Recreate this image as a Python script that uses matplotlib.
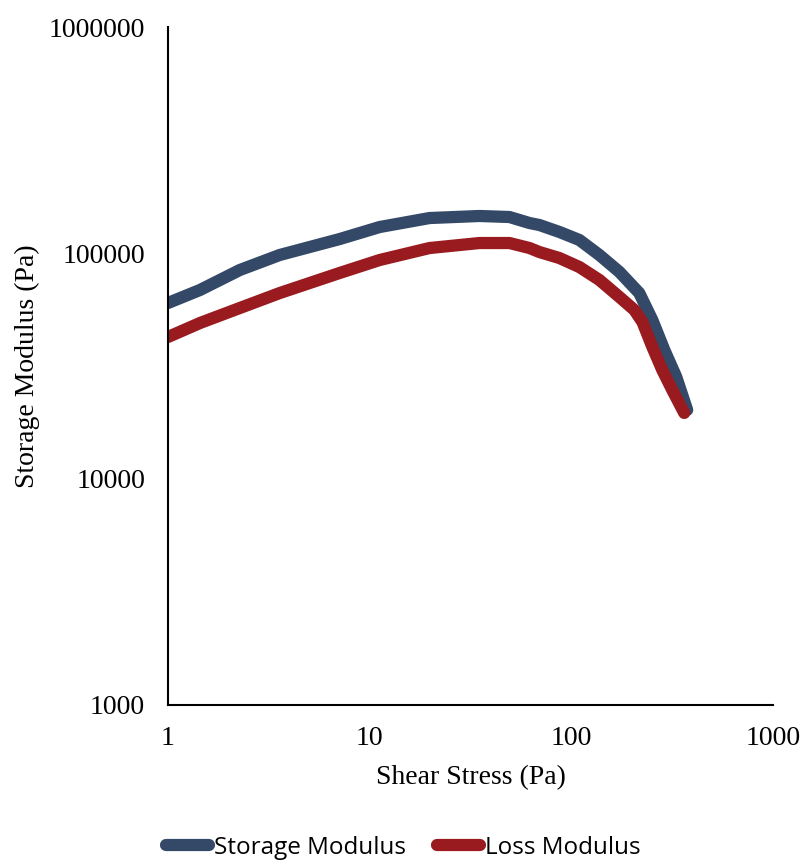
import matplotlib

matplotlib.use("Agg")
import matplotlib.pyplot as plt
from matplotlib.ticker import FixedLocator, FuncFormatter, NullLocator

# Valores (Pa)
shear_storage = [1.0, 1.44, 2.27, 3.58, 7.10, 11.2, 19.8, 35.0, 49.3, 62.0, 69.4, 87.2,
                 109.5, 137.6, 172.9, 217, 252, 289, 331, 375]
storage_mod = [60100, 68600, 84100, 98000, 115300, 130300, 142800, 145800, 144300, 135700,
               133000, 123900, 114200, 98000, 82500, 66500, 50500, 37200, 28300, 20200]

shear_loss = [1.0, 1.44, 2.27, 3.58, 7.10, 11.2, 19.8, 35.0, 49.3, 62.0, 69.4, 87.2,
              109.5, 137.6, 172.9, 205, 225, 252, 282, 316, 362.5]
loss_mod = [42500, 49000, 57100, 66500, 81600, 93100, 105200, 110700, 110700, 105200,
            101000, 95000, 86700, 76000, 63900, 56000, 49500, 38400, 30400, 24800, 19600]

x_ticks = [1, 10, 100, 1000]
y_ticks = [1000, 10000, 100000, 1000000]

_COLOR_STORAGE = "#344968"
_COLOR_LOSS = "#991b1f"

fig = plt.figure(figsize=(8.07, 8.63), dpi=100)
ax = fig.add_axes([0.2082, 0.1831, 0.7498, 0.7856])

ax.plot(shear_storage, storage_mod, color=_COLOR_STORAGE, linewidth=8.8,
        solid_capstyle="round", solid_joinstyle="round", label="Storage Modulus")
ax.plot(shear_loss, loss_mod, color=_COLOR_LOSS, linewidth=8.8,
        solid_capstyle="round", solid_joinstyle="round", label="Loss Modulus")

ax.set_xscale("log")
ax.set_yscale("log")
ax.set_xlim(1, 1000)
ax.set_ylim(1000, 1000000)
ax.xaxis.set_major_locator(FixedLocator(x_ticks))
ax.yaxis.set_major_locator(FixedLocator(y_ticks))
ax.xaxis.set_minor_locator(NullLocator())
ax.yaxis.set_minor_locator(NullLocator())
fmt = FuncFormatter(lambda v, _: f"{int(round(v))}")
ax.xaxis.set_major_formatter(fmt)
ax.yaxis.set_major_formatter(fmt)

serif = "Liberation Serif"
ax.tick_params(axis="both", length=0, labelsize=20)
ax.tick_params(axis="x", pad=15)
ax.tick_params(axis="y", pad=16.5)
for lab in ax.get_xticklabels() + ax.get_yticklabels():
    lab.set_fontfamily(serif)

ax.set_xlabel("Shear Stress (Pa)", fontsize=20, fontfamily=serif, labelpad=10)
ax.set_ylabel("Storage Modulus (Pa)", fontsize=20, fontfamily=serif, labelpad=6)

for spine in ("top", "right"):
    ax.spines[spine].set_visible(False)
for spine in ("left", "bottom"):
    ax.spines[spine].set_linewidth(1.5)
    ax.spines[spine].set_color("#000000")

fig.legend(loc="center", bbox_to_anchor=(0.5, 0.0174), ncol=2, frameon=False,
           prop={"family": "Open Sans", "size": 17.5}, handlelength=1.75,
           handletextpad=0.22, columnspacing=1.3)

fig.savefig("out.png", dpi=100)
